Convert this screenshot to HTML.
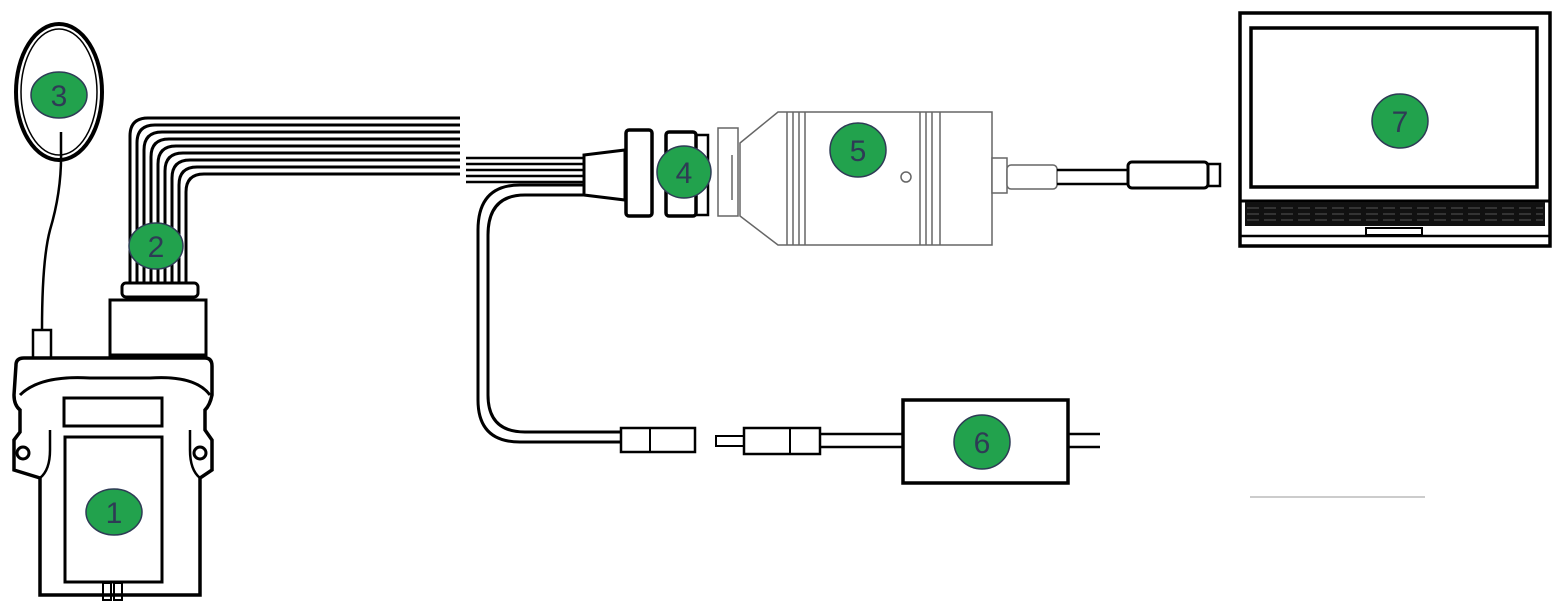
<!DOCTYPE html>
<html><head><meta charset="utf-8"><style>
html,body{margin:0;padding:0;background:#fff;width:1567px;height:614px;overflow:hidden}
svg{display:block}
.b{fill:#22a24d;stroke:#2e3b55;stroke-width:1.5}
.t{font-family:"Liberation Sans",sans-serif;font-size:30px;fill:#2e3b55;text-anchor:middle}
</style></head><body>
<svg width="1567" height="614" viewBox="0 0 1567 614" xmlns="http://www.w3.org/2000/svg">
<g fill="none" stroke="#000" stroke-width="3">
<!-- antenna -->
<ellipse cx="59" cy="92" rx="43" ry="68" stroke-width="4"/>
<ellipse cx="59" cy="92" rx="38" ry="63" stroke-width="1.5"/>
<path d="M61 132 V150 Q62 190 50 230 Q42 260 42 330" stroke-width="2.5"/>
<rect x="33" y="330" width="18" height="28" stroke-width="2.5"/>
<!-- ribbon -->
<g stroke-width="3">
<path d="M130 285 V136 Q130 118 148 118 H460"/>
<path d="M137 285 V143 Q137 125 155 125 H460"/>
<path d="M144 285 V150 Q144 132 162 132 H460"/>
<path d="M151 285 V157 Q151 139 169 139 H460"/>
<path d="M158 285 V164 Q158 146 176 146 H460"/>
<path d="M165 285 V171 Q165 153 183 153 H460"/>
<path d="M172 285 V178 Q172 160 190 160 H460"/>
<path d="M179 285 V185 Q179 167 197 167 H460"/>
<path d="M186 285 V192 Q186 174 204 174 H460"/>
</g>
<g stroke-width="2.5">
<path d="M466 158 H585 M466 164 H585 M466 170 H585 M466 176 H585 M466 182 H585"/>
</g>
<!-- connector on device -->
<rect x="122" y="283" width="76" height="14" rx="4" fill="#fff"/>
<rect x="110" y="300" width="96" height="55" fill="#fff"/>
<!-- device 1 -->
<path d="M16 365 Q16 358 24 358 H205 Q212 358 212 366 V395 Q210 405 205 410 V430 L212 440 V470 L200 478 V595 H40 V478 L14 470 V440 L20 432 V410 Q14 405 14 395 Z" stroke-width="3.5" fill="#fff"/>
<path d="M20 395 Q40 375 90 378 H150 Q195 375 210 395" stroke-width="3"/>
<rect x="64" y="398" width="98" height="28" stroke-width="3"/>
<rect x="65" y="437" width="97" height="145" stroke-width="3"/>
<circle cx="23" cy="453" r="6"/><circle cx="200" cy="453" r="6"/>
<path d="M40 478 Q50 470 50 450 V430 M200 478 Q190 470 190 450 V430" stroke-width="2.5"/>
<rect x="103" y="583" width="8" height="17" stroke-width="2"/><rect x="114" y="583" width="8" height="17" stroke-width="2"/>
<!-- power cable -->
<path d="M583 185 H520 Q478 185 478 230 V400 Q478 442 520 442 H620" stroke-width="3"/>
<path d="M583 195 H525 Q488 195 488 235 V395 Q488 432 525 432 H620" stroke-width="3"/>
<rect x="621" y="428" width="74" height="24" stroke-width="2.5"/>
<line x1="650" y1="428" x2="650" y2="452" stroke-width="2"/>
<rect x="716" y="436" width="28" height="10" stroke-width="2"/>
<rect x="744" y="428" width="76" height="26" stroke-width="2.5"/>
<line x1="790" y1="428" x2="790" y2="454" stroke-width="2"/>
<path d="M820 434 H902 M820 447 H902 M1068 434 H1100 M1068 447 H1100" stroke-width="2.5"/>
<rect x="903" y="400" width="165" height="83" stroke-width="3.5"/>
<!-- connector 4 -->
<path d="M584 155 L625 150 V200 L584 195 Z" fill="#fff" stroke-width="3"/>
<rect x="626" y="130" width="26" height="86" rx="3" fill="#fff" stroke-width="3.5"/>
<rect x="666" y="132" width="30" height="84" rx="3" fill="#fff" stroke-width="3.5"/>
<rect x="696" y="135" width="12" height="80" stroke-width="2.5"/>
<!-- adapter 5 -->
<g stroke="#666" stroke-width="1.5" fill="#fff">
<rect x="718" y="128" width="20" height="88"/>
<path d="M740 143 L778 112 H992 V245 H778 L740 216 Z"/>
<path d="M732 155 V200 M787 112 V245 M793 112 V245 M799 112 V245 M805 112 V245 M920 112 V245 M926 112 V245 M932 112 V245 M940 112 V245"/>
<circle cx="906" cy="177" r="5"/>
<rect x="992" y="158" width="15" height="35"/>
<rect x="1007" y="165" width="50" height="24" rx="4"/>
</g>
<path d="M1057 170 H1128 M1057 184 H1128" stroke-width="2.5"/>
<rect x="1128" y="162" width="80" height="26" rx="4" stroke-width="3"/>
<rect x="1208" y="164" width="12" height="22" stroke-width="2.5"/>
<!-- laptop 7 -->
<rect x="1240" y="13" width="310" height="233" stroke-width="3.5"/>
<rect x="1251" y="28" width="286" height="159" stroke-width="3.5"/>
<line x1="1240" y1="201" x2="1550" y2="201" stroke-width="3"/>
<line x1="1240" y1="236" x2="1550" y2="236" stroke-width="2.5"/>
<rect x="1366" y="228" width="56" height="7" stroke-width="2"/>
</g>
<rect x="1245" y="202" width="300" height="24" fill="#111"/>
<g stroke="#555" stroke-width="1" stroke-dasharray="12 5">
<line x1="1247" y1="208" x2="1543" y2="208"/><line x1="1247" y1="214" x2="1543" y2="214"/><line x1="1247" y1="220" x2="1543" y2="220"/>
</g>
<line x1="1250" y1="497" x2="1425" y2="497" stroke="#999" stroke-width="1"/>
<!-- badges -->
<g>
<ellipse class="b" cx="59" cy="95" rx="28" ry="23"/><text class="t" x="59" y="106">3</text>
<ellipse class="b" cx="156" cy="246" rx="27" ry="23"/><text class="t" x="156" y="257">2</text>
<ellipse class="b" cx="114" cy="512" rx="28" ry="23"/><text class="t" x="114" y="523">1</text>
<ellipse class="b" cx="684" cy="172" rx="27" ry="26"/><text class="t" x="684" y="183">4</text>
<ellipse class="b" cx="858" cy="150" rx="28" ry="27"/><text class="t" x="858" y="161">5</text>
<ellipse class="b" cx="982" cy="442" rx="28" ry="27"/><text class="t" x="982" y="453">6</text>
<ellipse class="b" cx="1400" cy="121" rx="28" ry="27"/><text class="t" x="1400" y="132">7</text>
</g>
</svg>
</body></html>
